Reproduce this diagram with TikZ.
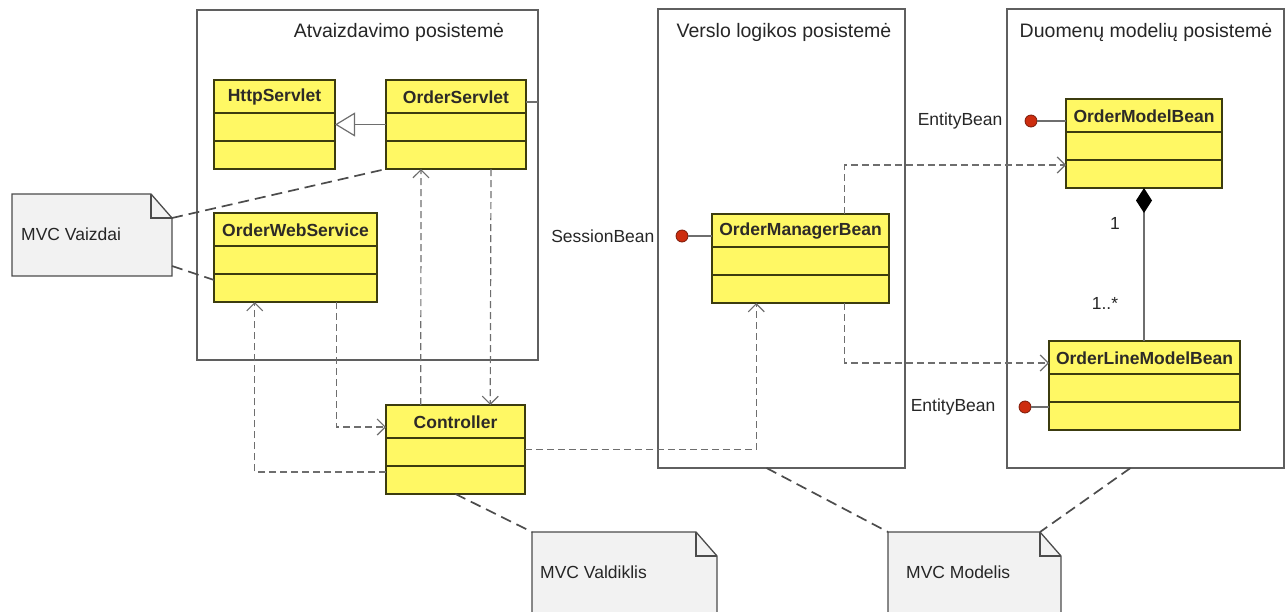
\documentclass[tikz,border=0pt]{standalone}
\usepackage{fontspec}
\setmainfont{Liberation Sans}
\usetikzlibrary{calc,positioning,arrows.meta,shapes}

\definecolor{classyellow}{RGB}{255,248,100}
\definecolor{classborder}{RGB}{60,60,15}
\definecolor{framegray}{RGB}{95,95,95}
\definecolor{notefill}{RGB}{242,242,242}
\definecolor{linkgray}{RGB}{110,110,110}
\definecolor{ifacered}{RGB}{205,45,15}

\tikzstyle{subsystem} = [draw=framegray, line width=1.3pt, rectangle, anchor=north west, inner sep=0pt, outer sep=0pt]
\tikzstyle{systitle}  = [font=\fontsize{19.5}{22}\selectfont, text=black!85]
\tikzstyle{classbox}  = [draw=classborder, fill=classyellow, line width=1.6pt, rectangle, anchor=north west, inner sep=0pt, outer sep=0pt, minimum height=89]
\tikzstyle{classname} = [font=\fontsize{17.5}{20}\selectfont\bfseries, text=black!90!olive]
\tikzstyle{classline} = [draw=classborder, line width=1.6pt]
\tikzstyle{notebox}   = [rectangle, anchor=north west, inner sep=0pt, outer sep=0pt]
\tikzstyle{noteline}  = [draw=black!70, line width=1.3pt, line join=miter]
\tikzstyle{notetext}  = [font=\fontsize{17.5}{20}\selectfont, text=black!85, inner sep=0pt]
\tikzstyle{lbl}       = [font=\fontsize{17.5}{20}\selectfont, text=black!85, inner sep=2pt]
\tikzstyle{notelink}  = [draw=black!70, line width=1.7pt, dash pattern=on 11pt off 6pt]
\tikzstyle{dep}       = [draw=linkgray, line width=1.2pt, dash pattern=on 7pt off 4pt, -{Straight Barb[length=8pt,width=16pt]}]
\tikzstyle{gen}       = [draw=linkgray, line width=1.2pt, -{Triangle[open,length=20pt,width=24pt,fill=white]}]
\tikzstyle{iface}     = [circle, draw=ifacered!60!black, fill=ifacered, line width=0.8pt, minimum size=12pt, inner sep=0pt]
\tikzstyle{ifaceline} = [draw=linkgray, line width=1.2pt]

% class box with three compartments
\newcommand{\umlclass}[4]{%
  \node[classbox, minimum width=#3] (#1) at (#2) {};
  \node[classname] (#1-title) at ($(#1.north)+(0,17)$) {#4};
  \draw[classline] ($(#1.north west)+(0,33)$) -- ($(#1.north east)+(0,33)$);
  \draw[classline] ($(#1.north west)+(0,61)$) -- ($(#1.north east)+(0,61)$);
}
% note with folded corner
\newcommand{\umlnote}[6]{%
  \node[notebox, minimum width=#3, minimum height=#4] (#1) at (#2) {};
  \coordinate (#1-fold) at ($(#1.north east)+(0,24)$);
  \coordinate (#1-cut) at ($(#1.north east)+(-21,0)$);
  \draw[noteline, fill=notefill] (#1.north west) -- (#1-cut) -- (#1-fold) -- (#1.south east) -- (#1.south west) -- cycle;
  \draw[noteline] (#1-cut) |- (#1-fold);
  \node[notetext, anchor=west] (#1-text) at ($(#1.north west)+(#5,40)$) {#6};
}

\begin{document}
\begin{tikzpicture}[x=1pt, y=-1pt]
    \useasboundingbox (0,0) rectangle (1285,611);
    \clip (0,0) rectangle (1285,611);

    % subsystems
    \node[subsystem, minimum width=341, minimum height=350] (fview) at (197,10) {};
    \node[subsystem, minimum width=247, minimum height=459] (fbiz) at (658,9) {};
    \node[subsystem, minimum width=277, minimum height=459] (fdata) at (1007,9) {};
    \node[systitle] (tview) at (399,32) {Atvaizdavimo posistemė};
    \node[systitle] (tbiz) at (784,32) {Verslo logikos posistemė};
    \node[systitle] (tdata) at (1146,32) {Duomenų modelių posistemė};

    % classes
    \umlclass{hservlet}{214,80}{121}{HttpServlet}
    \umlclass{oservlet}{386,80}{140}{OrderServlet}
    \umlclass{ows}{214,213}{163}{OrderWebService}
    \umlclass{ctrl}{386,405}{139}{Controller}
    \umlclass{omb}{712,214}{177}{OrderManagerBean}
    \umlclass{omodel}{1066,99}{156}{OrderModelBean}
    \umlclass{oline}{1049,341}{191}{OrderLineModelBean}

    % notes
    \umlnote{nvaizdai}{12,194}{160}{82}{9}{MVC Vaizdai}
    \umlnote{nvaldiklis}{532,532}{185}{95}{8}{MVC Valdiklis}
    \umlnote{nmodelis}{888,532}{173}{95}{18}{MVC Modelis}

    % note links
    \draw[notelink] (nvaizdai-fold) -- (oservlet.south west);
    \draw[notelink] ($(nvaizdai.south east)+(0,-10)$) -- ($(ows.north west)+(0,67)$);
    \draw[notelink] (ctrl.south) -- (nvaldiklis.north west);
    \draw[notelink] ($(fbiz.south)+(-15,0)$) -- (nmodelis.north west);
    \draw[notelink] ($(fdata.south)+(-15,0)$) -- (nmodelis-cut);

    % generalization and stub
    \draw[gen] (oservlet.west) -- (hservlet.east);
    \draw[ifaceline] ($(oservlet.north east)+(0,22)$) -- ($(fview.north east)+(0,92)$);

    % dependencies
    \draw[dep] ($(ctrl.north west)!0.25!(ctrl.north east)$) -- ($(oservlet.south west)!0.25!(oservlet.south east)$);
    \draw[dep] ($(oservlet.south west)!0.75!(oservlet.south east)$) -- ($(ctrl.north west)!0.75!(ctrl.north east)$);
    \draw[dep] ($(ows.south west)!0.75!(ows.south east)$) |- ($(ctrl.north west)+(0,22)$);
    \draw[dep] ($(ctrl.north west)+(0,67)$) -| ($(ows.south west)!0.25!(ows.south east)$);
    \draw[dep] (ctrl.east) -| ($(omb.south west)!0.25!(omb.south east)$);
    \draw[dep] ($(omb.north west)!0.75!(omb.north east)$) |- ($(omodel.north west)+(0,66)$);
    \draw[dep] ($(omb.south west)!0.75!(omb.south east)$) |- ($(oline.north west)+(0,22)$);

    % composition
    \draw[ifaceline, {Diamond[length=25pt,width=16pt,color=black]}-] (omodel.south) -- (omodel.south |- oline.north);
    \node[lbl] (m1) at ($(omodel.south)+(-29,35)$) {1};
    \node[lbl] (m2) at ($(omodel.south)+(-39,115)$) {1..*};

    % interfaces
    \node[iface] (isess) at ($(omb.north west)+(-30,22)$) {};
    \node[lbl, anchor=east] (lsess) at ($(isess.west)+(-19,0)$) {SessionBean};
    \draw[ifaceline] (isess) -- (isess -| omb.west);
    \node[iface] (imodel) at ($(omodel.north west)+(-35,22)$) {};
    \node[lbl, anchor=east] (lmodel) at ($(imodel.west)+(-20,0)$) {EntityBean};
    \draw[ifaceline] (imodel) -- (imodel -| omodel.west);
    \node[iface] (iline) at ($(oline.north west)+(-24,66)$) {};
    \node[lbl, anchor=east] (lline) at ($(iline.west)+(-21,0)$) {EntityBean};
    \draw[ifaceline] (iline) -- (iline -| oline.west);
\end{tikzpicture}
\end{document}
